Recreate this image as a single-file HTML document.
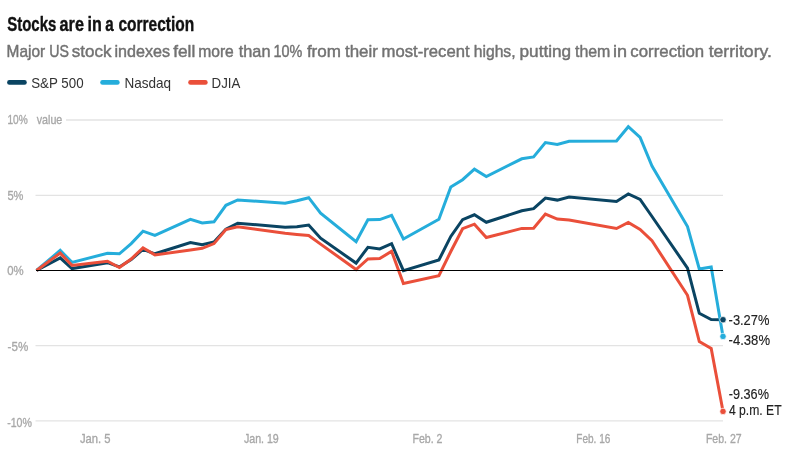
<!DOCTYPE html>
<html><head><meta charset="utf-8"><style>
html,body{margin:0;padding:0;background:#fff;}
body{width:792px;height:455px;overflow:hidden;position:relative;}
svg{position:absolute;left:0;top:0;display:block;}
.tx{will-change:transform;}
text{font-family:"Liberation Sans",sans-serif;}
</style></head><body>
<svg width="792" height="455" viewBox="0 0 792 455">
<line x1="9.4" y1="82.4" x2="24.5" y2="82.4" stroke="#0a4462" stroke-width="4.6" stroke-linecap="round"/>
<line x1="102.5" y1="82.4" x2="117.4" y2="82.4" stroke="#25addb" stroke-width="4.6" stroke-linecap="round"/>
<line x1="190.5" y1="82.4" x2="205.4" y2="82.4" stroke="#ea4f3a" stroke-width="4.6" stroke-linecap="round"/>
<g stroke="#e3e3e3" stroke-width="1.3">
<line x1="66" y1="120" x2="723" y2="120"/>
<line x1="35.5" y1="195.4" x2="723" y2="195.4"/>
<line x1="35.5" y1="345.6" x2="723" y2="345.6"/>
<line x1="35.5" y1="420.9" x2="723" y2="420.9"/>
</g>
<g fill="none" stroke-width="3" stroke-linejoin="miter" stroke-linecap="butt">
<polyline stroke="#0a4462" points="36.5,270.5 60.2,257.9 72.0,268.6 107.5,262.7 119.4,266.9 131.2,259.5 143.0,249.4 154.9,253.8 190.4,242.5 202.2,244.8 214.0,241.9 225.9,229.1 237.7,223.2 285.1,227.2 296.9,226.7 308.7,225.0 320.6,238.2 356.1,263.1 367.9,247.3 379.7,248.9 391.6,243.7 403.4,270.7 438.9,260.0 450.8,236.4 462.6,219.7 474.4,214.8 486.3,222.3 521.8,210.8 533.6,208.6 545.4,198.1 557.3,200.1 569.1,197.1 616.5,201.4 628.3,193.9 640.1,199.5 652.0,216.5 687.5,268.1 699.3,313.3 711.2,319.6 723.0,319.7"/>
<polyline stroke="#25addb" points="36.5,270.5 60.2,250.4 72.0,262.4 107.5,253.3 119.4,253.8 131.2,243.6 143.0,231.2 154.9,235.3 190.4,219.3 202.2,223.0 214.0,221.8 225.9,205.3 237.7,200.0 285.1,203.2 296.9,200.8 308.7,197.7 320.6,213.1 356.1,241.7 367.9,219.8 379.7,219.6 391.6,215.4 403.4,239.0 438.9,219.2 450.8,186.9 462.6,179.7 474.4,169.2 486.3,176.5 521.8,158.8 533.6,156.9 545.4,142.6 557.3,144.5 569.1,141.3 616.5,141.0 628.3,126.7 640.1,137.4 652.0,166.0 687.5,226.6 699.3,269.0 711.2,267.0 723.0,336.4"/>
<polyline stroke="#ea4f3a" points="36.5,270.5 60.2,253.1 72.0,265.4 107.5,261.2 119.4,267.5 131.2,259.0 143.0,247.8 154.9,254.9 190.4,250.1 202.2,248.3 214.0,243.6 225.9,229.5 237.7,226.8 285.1,233.3 296.9,234.5 308.7,235.5 320.6,244.1 356.1,269.5 367.9,258.9 379.7,258.6 391.6,251.3 403.4,283.4 438.9,275.7 450.8,251.5 462.6,228.7 474.4,224.2 486.3,237.5 521.8,228.4 533.6,228.3 545.4,214.0 557.3,219.1 569.1,220.1 616.5,228.5 628.3,222.5 640.1,229.5 652.0,240.7 687.5,295.3 699.3,341.5 711.2,348.5 723.0,411.3"/>
</g>
<line x1="36" y1="270.5" x2="723" y2="270.5" stroke="#000" stroke-width="1.2"/>
<circle cx="723" cy="336.4" r="3.2" fill="#25addb" stroke="#fff" stroke-width="0.7"/>
<circle cx="723" cy="319.7" r="3.2" fill="#0a4462" stroke="#fff" stroke-width="0.7"/>
<circle cx="723" cy="411.4" r="3.2" fill="#ea4f3a" stroke="#fff" stroke-width="0.7"/>
</svg>
<svg class="tx" width="792" height="455" viewBox="0 0 792 455">
<text x="7.21" y="30.7" font-size="21" fill="#111" font-weight="bold" textLength="49.2" lengthAdjust="spacingAndGlyphs" stroke="#111" stroke-width="0.4" stroke-linejoin="round">Stocks</text>
<text x="59.59" y="30.7" font-size="21" fill="#111" font-weight="bold" textLength="24.36" lengthAdjust="spacingAndGlyphs" stroke="#111" stroke-width="0.4" stroke-linejoin="round">are</text>
<text x="87.43" y="30.7" font-size="21" fill="#111" font-weight="bold" textLength="14.29" lengthAdjust="spacingAndGlyphs" stroke="#111" stroke-width="0.4" stroke-linejoin="round">in</text>
<text x="105.28" y="30.7" font-size="21" fill="#111" font-weight="bold" textLength="8.43" lengthAdjust="spacingAndGlyphs" stroke="#111" stroke-width="0.4" stroke-linejoin="round">a</text>
<text x="118.44" y="30.7" font-size="21" fill="#111" font-weight="bold" textLength="75.82" lengthAdjust="spacingAndGlyphs" stroke="#111" stroke-width="0.4" stroke-linejoin="round">correction</text>
<text x="6.51" y="56.7" font-size="17" fill="#727272" textLength="38.66" lengthAdjust="spacingAndGlyphs" stroke="#727272" stroke-width="0.45" stroke-linejoin="round">Major</text>
<text x="49.2" y="56.7" font-size="17" fill="#727272" textLength="19.67" lengthAdjust="spacingAndGlyphs" stroke="#727272" stroke-width="0.45" stroke-linejoin="round">US</text>
<text x="71.74" y="56.7" font-size="17" fill="#727272" textLength="39.74" lengthAdjust="spacingAndGlyphs" stroke="#727272" stroke-width="0.45" stroke-linejoin="round">stock</text>
<text x="114.43" y="56.7" font-size="17" fill="#727272" textLength="55.6" lengthAdjust="spacingAndGlyphs" stroke="#727272" stroke-width="0.45" stroke-linejoin="round">indexes</text>
<text x="173.21" y="56.7" font-size="17" fill="#727272" textLength="22.05" lengthAdjust="spacingAndGlyphs" stroke="#727272" stroke-width="0.45" stroke-linejoin="round">fell</text>
<text x="198.2" y="56.7" font-size="17" fill="#727272" textLength="35.59" lengthAdjust="spacingAndGlyphs" stroke="#727272" stroke-width="0.45" stroke-linejoin="round">more</text>
<text x="238.75" y="56.7" font-size="17" fill="#727272" textLength="31.74" lengthAdjust="spacingAndGlyphs" stroke="#727272" stroke-width="0.45" stroke-linejoin="round">than</text>
<text x="273.51" y="56.7" font-size="17" fill="#727272" textLength="28.82" lengthAdjust="spacingAndGlyphs" stroke="#727272" stroke-width="0.45" stroke-linejoin="round">10%</text>
<text x="306.9" y="56.7" font-size="17" fill="#727272" textLength="34.05" lengthAdjust="spacingAndGlyphs" stroke="#727272" stroke-width="0.45" stroke-linejoin="round">from</text>
<text x="344.98" y="56.7" font-size="17" fill="#727272" textLength="32.96" lengthAdjust="spacingAndGlyphs" stroke="#727272" stroke-width="0.45" stroke-linejoin="round">their</text>
<text x="381.59" y="56.7" font-size="17" fill="#727272" textLength="87.97" lengthAdjust="spacingAndGlyphs" stroke="#727272" stroke-width="0.45" stroke-linejoin="round">most-recent</text>
<text x="473.74" y="56.7" font-size="17" fill="#727272" textLength="41.83" lengthAdjust="spacingAndGlyphs" stroke="#727272" stroke-width="0.45" stroke-linejoin="round">highs,</text>
<text x="519.51" y="56.7" font-size="17" fill="#727272" textLength="51.67" lengthAdjust="spacingAndGlyphs" stroke="#727272" stroke-width="0.45" stroke-linejoin="round">putting</text>
<text x="574.98" y="56.7" font-size="17" fill="#727272" textLength="35.36" lengthAdjust="spacingAndGlyphs" stroke="#727272" stroke-width="0.45" stroke-linejoin="round">them</text>
<text x="613.12" y="56.7" font-size="17" fill="#727272" textLength="14.06" lengthAdjust="spacingAndGlyphs" stroke="#727272" stroke-width="0.45" stroke-linejoin="round">in</text>
<text x="630.36" y="56.7" font-size="17" fill="#727272" textLength="73.82" lengthAdjust="spacingAndGlyphs" stroke="#727272" stroke-width="0.45" stroke-linejoin="round">correction</text>
<text x="708.67" y="56.7" font-size="17" fill="#727272" textLength="63.21" lengthAdjust="spacingAndGlyphs" stroke="#727272" stroke-width="0.45" stroke-linejoin="round">territory.</text>
<text x="31.2" y="87.8" font-size="14.5" fill="#333" textLength="52.4" lengthAdjust="spacingAndGlyphs">S&amp;P 500</text>
<text x="124.4" y="87.8" font-size="14.5" fill="#333" textLength="46.6" lengthAdjust="spacingAndGlyphs">Nasdaq</text>
<text x="211.6" y="87.8" font-size="14.5" fill="#333" textLength="28.8" lengthAdjust="spacingAndGlyphs">DJIA</text>
<text x="7.4" y="124.0" font-size="12.8" fill="#a8a8a8" textLength="20.3" lengthAdjust="spacingAndGlyphs" stroke="#a8a8a8" stroke-width="0.35" stroke-linejoin="round">10%</text>
<text x="7.4" y="199.9" font-size="12.8" fill="#a8a8a8" textLength="16.0" lengthAdjust="spacingAndGlyphs" stroke="#a8a8a8" stroke-width="0.35" stroke-linejoin="round">5%</text>
<text x="7.2" y="274.9" font-size="12.8" fill="#a8a8a8" textLength="16.4" lengthAdjust="spacingAndGlyphs" stroke="#a8a8a8" stroke-width="0.35" stroke-linejoin="round">0%</text>
<text x="7.6" y="350.7" font-size="12.8" fill="#a8a8a8" textLength="20.6" lengthAdjust="spacingAndGlyphs" stroke="#a8a8a8" stroke-width="0.35" stroke-linejoin="round">-5%</text>
<text x="7.2" y="426.8" font-size="12.8" fill="#a8a8a8" textLength="24.7" lengthAdjust="spacingAndGlyphs" stroke="#a8a8a8" stroke-width="0.35" stroke-linejoin="round">-10%</text>
<text x="36.7" y="124.0" font-size="12.8" fill="#a8a8a8" textLength="25.6" lengthAdjust="spacingAndGlyphs" stroke="#a8a8a8" stroke-width="0.35" stroke-linejoin="round">value</text>
<text x="80.0" y="443.2" font-size="12.8" fill="#a8a8a8" textLength="30.6" lengthAdjust="spacingAndGlyphs" stroke="#a8a8a8" stroke-width="0.35" stroke-linejoin="round">Jan. 5</text>
<text x="243.9" y="443.2" font-size="12.8" fill="#a8a8a8" textLength="34.9" lengthAdjust="spacingAndGlyphs" stroke="#a8a8a8" stroke-width="0.35" stroke-linejoin="round">Jan. 19</text>
<text x="412.5" y="443.2" font-size="12.8" fill="#a8a8a8" textLength="30.0" lengthAdjust="spacingAndGlyphs" stroke="#a8a8a8" stroke-width="0.35" stroke-linejoin="round">Feb. 2</text>
<text x="576.3" y="443.2" font-size="12.8" fill="#a8a8a8" textLength="34.0" lengthAdjust="spacingAndGlyphs" stroke="#a8a8a8" stroke-width="0.35" stroke-linejoin="round">Feb. 16</text>
<text x="705.9" y="443.2" font-size="12.8" fill="#a8a8a8" textLength="35.7" lengthAdjust="spacingAndGlyphs" stroke="#a8a8a8" stroke-width="0.35" stroke-linejoin="round">Feb. 27</text>
<text x="728.6" y="324.6" font-size="14" fill="#222" textLength="40.8" lengthAdjust="spacingAndGlyphs" stroke="#222" stroke-width="0.15" stroke-linejoin="round">-3.27%</text>
<text x="728.6" y="344.5" font-size="14" fill="#222" textLength="41.4" lengthAdjust="spacingAndGlyphs" stroke="#222" stroke-width="0.15" stroke-linejoin="round">-4.38%</text>
<text x="728.8" y="398.7" font-size="14" fill="#222" textLength="40.1" lengthAdjust="spacingAndGlyphs" stroke="#222" stroke-width="0.15" stroke-linejoin="round">-9.36%</text>
<text x="729.0" y="414.6" font-size="14" fill="#222" textLength="52.6" lengthAdjust="spacingAndGlyphs" stroke="#222" stroke-width="0.15" stroke-linejoin="round">4 p.m. ET</text>
</svg>
</body></html>
